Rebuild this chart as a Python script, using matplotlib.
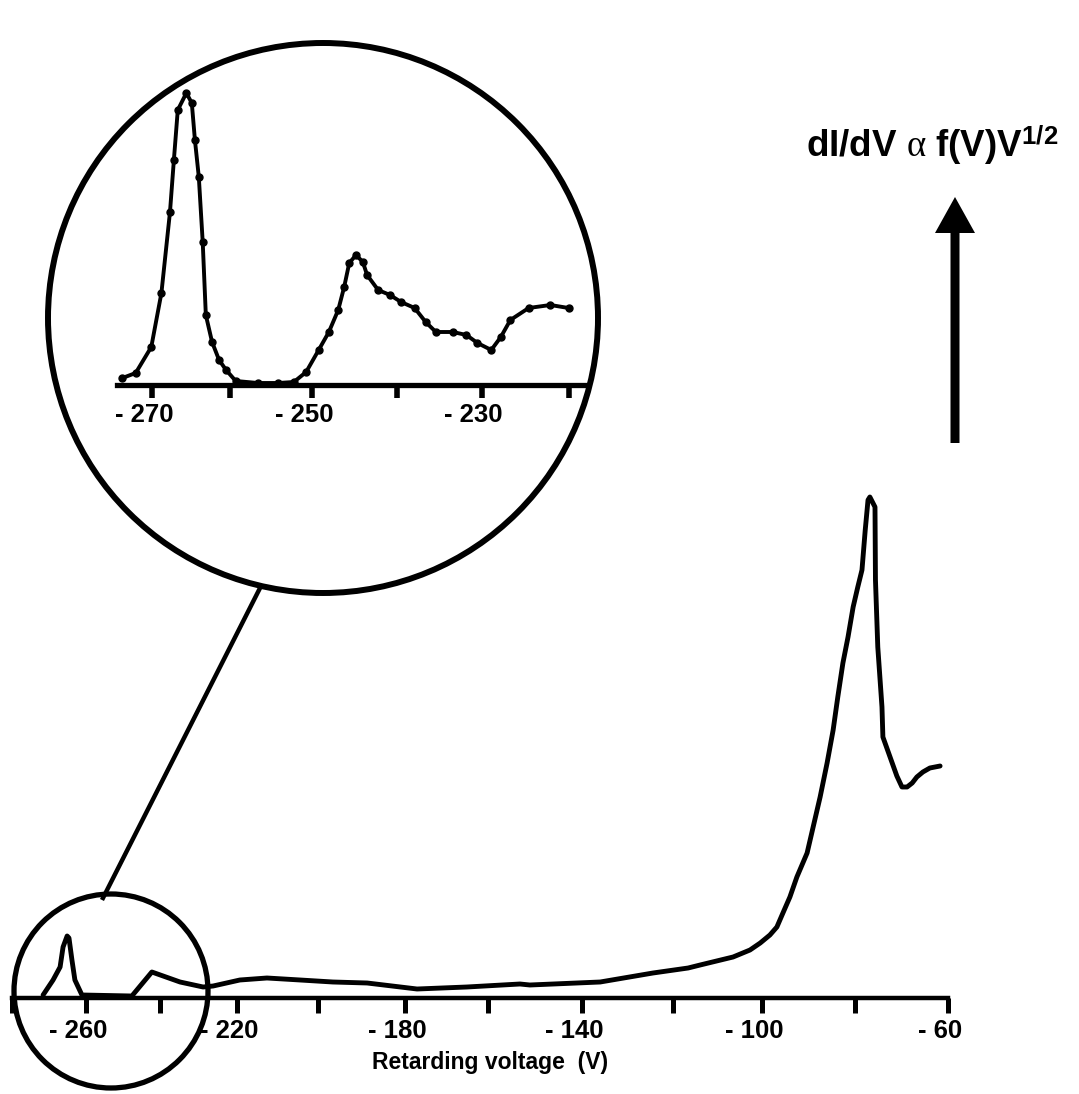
import numpy as np
import matplotlib
matplotlib.use("Agg")
import matplotlib.pyplot as plt
from matplotlib.patches import Circle, FancyArrow
from matplotlib.lines import Line2D
from matplotlib.transforms import ScaledTranslation

# ---------------- data ----------------
main_v = [-271.6, -268.9, -267.0, -266.2, -265.1, -264.6, -263.8, -263.0, -261.1,
          -247.6, -242.2, -234.8, -228.8, -226.2,
          -219.3, -212.6, -204.4, -196.6, -188.7, -177.1, -165.1, -153.2, -151.1,
          -136.0, -124.4, -116.6, -113.9, -106.5, -102.7, -100.4, -98.3, -96.8,
          -95.5, -94.0, -92.5, -90.3, -89.0, -87.5, -86.0, -84.7, -83.7, -82.6,
          -81.5, -80.4, -79.4, -78.5, -77.8, -77.2, -76.8, -75.7, -75.6,
          -75.1, -74.2, -74.0, -72.0, -71.0, -69.9, -68.8, -67.7, -66.7, -65.4,
          -63.9, -61.7]
main_y = [0.03, 0.18, 0.31, 0.51, 0.62, 0.60, 0.38, 0.18, 0.03,
          0.02, 0.26, 0.16, 0.11, 0.12,
          0.18, 0.20, 0.18, 0.16, 0.15, 0.09, 0.11, 0.14, 0.13,
          0.16, 0.25, 0.30, 0.33, 0.41, 0.48, 0.55, 0.63, 0.71,
          0.85, 1.01, 1.21, 1.45, 1.71, 2.01, 2.35, 2.68, 3.01, 3.35,
          3.61, 3.91, 4.11, 4.28, 4.68, 4.98, 5.01, 4.91, 4.18,
          3.51, 2.91, 2.61, 2.35, 2.22, 2.11, 2.11, 2.15, 2.21, 2.26,
          2.30, 2.32]

inset_v = [-273.8, -272.1, -270.1, -268.8, -267.7, -267.2, -266.7, -265.6, -264.9,
           -264.5, -264.0, -263.5, -263.1, -262.3, -261.4, -260.5, -259.3, -256.6,
           -254.1, -252.2, -250.7, -249.2, -248.0, -246.9, -246.2, -245.6, -244.8,
           -244.0, -243.5, -242.2, -240.8, -239.5, -237.9, -236.6, -235.4, -233.4,
           -231.8, -230.5, -228.9, -227.8, -226.7, -224.6, -222.1, -220.0]
inset_y = [0.07, 0.12, 0.38, 0.92, 1.73, 2.25, 2.75, 2.92, 2.82,
           2.45, 2.08, 1.43, 0.70, 0.43, 0.25, 0.15, 0.04, 0.02,
           0.02, 0.03, 0.13, 0.35, 0.53, 0.75, 0.98, 1.22, 1.30,
           1.23, 1.10, 0.95, 0.90, 0.83, 0.77, 0.63, 0.53, 0.53,
           0.50, 0.42, 0.35, 0.48, 0.65, 0.77, 0.80, 0.77]

main_ticks = [-280, -260, -240, -220, -200, -180, -160, -140, -120, -100, -80, -60]
main_labels = ["", "- 260", "", "- 220", "", "- 180", "", "- 140", "", "- 100", "", "- 60"]
inset_ticks = [-270, -260, -250, -240, -230, -220]
inset_labels = ["- 270", "", "- 250", "", "- 230", ""]

x_label = "Retarding voltage  (V)"
y_label = r"dI/dV $\alpha$ f(V)V$^{1/2}$"

# ---------------- layout (scanned axis spacing) ----------------
main_knot_v = np.array([-280, -260, -240, -220, -200, -180, -160, -140, -120, -100, -80, -60], float)
main_knot_p = np.array([12, 86, 160, 237, 318, 405, 488, 582, 673, 762, 855, 948], float)
inset_knot_v = np.array([-280, -270, -260, -250, -240, -230, -220, -210], float)
inset_knot_p = np.array([74, 152, 230, 312, 397, 482, 569, 656], float)


def make_scale(kv, kp):
    def fwd(v):
        return np.interp(v, kv, kp)

    def inv(p):
        return np.interp(p, kp, kv)
    return fwd, inv


plt.rcParams['font.family'] = ['Liberation Sans', 'DejaVu Sans']
plt.rcParams['font.weight'] = 'bold'
plt.rcParams['mathtext.fontset'] = 'custom'
plt.rcParams['mathtext.rm'] = 'Liberation Sans:weight=bold'
plt.rcParams['mathtext.bf'] = 'Liberation Sans:weight=bold'
plt.rcParams['mathtext.it'] = 'Liberation Serif:weight=normal:style=normal'

W, H = 1079, 1094
fig = plt.figure(figsize=(W / 100, H / 100), dpi=100)
fig.patch.set_facecolor('white')

# main axes
ax = fig.add_axes([12 / W, (H - 998) / H, 936 / W, 600 / H])
ax.set_facecolor('none')
ax.set_xscale('function', functions=make_scale(main_knot_v, main_knot_p))
ax.set_xlim(-280, -60)
ax.set_ylim(0, 6)
ax.plot(main_v, main_y, color='black', lw=3.5, solid_joinstyle='round',
        solid_capstyle='round', clip_on=False)
for s in ['left', 'top', 'right']:
    ax.spines[s].set_visible(False)
ax.spines['bottom'].set_linewidth(3.2)
ax.set_yticks([])
ax.set_xticks(main_ticks)
ax.set_xticklabels(main_labels)
ax.tick_params(axis='x', direction='out', length=11, width=3.6, labelsize=18.5, pad=4)
off = ScaledTranslation(-0.08, 0, fig.dpi_scale_trans)
for lab in ax.get_xticklabels():
    lab.set_fontweight('bold')
    lab.set_transform(lab.get_transform() + off)
ax.set_xlabel(x_label, fontsize=16.5, fontweight='bold')
ax.xaxis.set_label_coords((490 - 12) / 936, (998 - 1063) / 600)
ax.xaxis.label.set_va('center')

# inset axes
ax2 = fig.add_axes([117 / W, (H - 385) / H, 469 / W, 320 / H])
ax2.set_facecolor('none')
ax2.set_xscale('function', functions=make_scale(inset_knot_v, inset_knot_p))
ax2.set_xlim(-274.5, -218)
ax2.set_ylim(0, 3.2)
ax2.plot(inset_v, inset_y, color='black', lw=2.8, marker='o', markersize=5,
         solid_joinstyle='round', clip_on=False)
for s in ['left', 'top', 'right']:
    ax2.spines[s].set_visible(False)
ax2.spines['bottom'].set_linewidth(3.8)
ax2.set_yticks([])
ax2.set_xticks(inset_ticks)
ax2.set_xticklabels(inset_labels)
ax2.tick_params(axis='x', direction='out', length=9, width=4.0, labelsize=18.5, pad=4)
for lab in ax2.get_xticklabels():
    lab.set_fontweight('bold')
    lab.set_transform(lab.get_transform() + off)

# decorations in figure inches
T = fig.dpi_scale_trans
fig.add_artist(Circle((3.23, (H - 318) / 100), 2.75, transform=T, fill=False,
                      lw=4.3, color='black'))
fig.add_artist(Circle((1.11, (H - 991) / 100), 0.97, transform=T, fill=False,
                      lw=3.8, color='black'))
fig.add_artist(Line2D([2.59, 1.03], [(H - 590) / 100, (H - 898) / 100], transform=T,
                      lw=3.2, color='black'))
fig.add_artist(FancyArrow(9.55, (H - 443) / 100, 0, (443 - 197) / 100, width=0.09,
                          head_width=0.40, head_length=0.36, length_includes_head=True,
                          transform=T, color='black', lw=0))
fig.text(932 / W, 1 - 145 / H, y_label, ha='center', va='center', fontsize=26.5,
         fontweight='bold')

fig.savefig('out.png', dpi=100)
